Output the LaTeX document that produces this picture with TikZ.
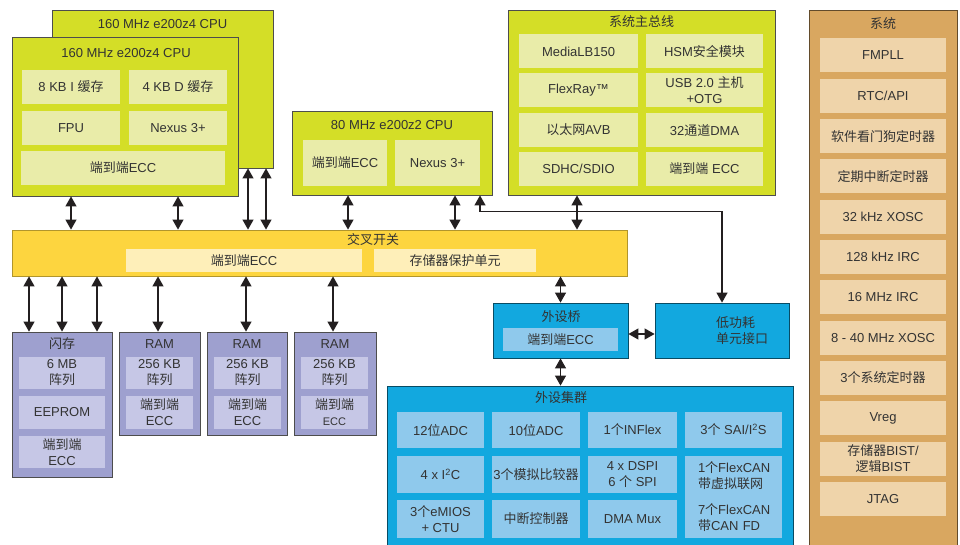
\documentclass[tikz,border=0pt]{standalone}
\usepackage{fontspec}
\setmainfont{Liberation Sans}
\newfontfamily\cjk{Noto Sans CJK SC}
\newcommand{\zh}[1]{{\cjk #1}}
\usepackage{tikz}
\usetikzlibrary{arrows.meta,positioning}

\definecolor{cpugreen}{HTML}{D4DE27}
\definecolor{cpulight}{HTML}{E9ECA9}
\definecolor{xyellow}{HTML}{FDD53F}
\definecolor{xlight}{HTML}{FEEFB9}
\definecolor{mempurple}{HTML}{9EA0CF}
\definecolor{memlight}{HTML}{C6C7E6}
\definecolor{perblue}{HTML}{12A8DF}
\definecolor{perlight}{HTML}{8FC9EC}
\definecolor{systan}{HTML}{D9A760}
\definecolor{syslight}{HTML}{EFD4AA}
\definecolor{linegray}{HTML}{4D4D4D}
\definecolor{textgray}{HTML}{333333}
\definecolor{arrowdark}{HTML}{231F20}

\begin{document}
\begin{tikzpicture}[%
x=1pt, y=-1pt,
>={Stealth[length=10pt,width=11pt,inset=0pt]},
node distance=40.3pt,
on grid,
sz/.style 2 args={minimum width=#1pt, minimum height=#2pt},
ttl/.style={text=textgray, font=\fontsize{13}{16}\selectfont, align=center, inner sep=0pt},
cpubox/.style={draw=linegray, fill=cpugreen, line width=0.8pt, inner sep=0pt},
cpuin/.style={ttl, fill=cpulight},
xbox/.style={draw=xyellow!70!black, fill=xyellow, line width=0.8pt, inner sep=0pt},
xin/.style={ttl, fill=xlight},
membox/.style={draw=linegray, fill=mempurple, line width=0.8pt, inner sep=0pt},
memin/.style={ttl, fill=memlight},
perbox/.style={draw=perblue!45!black, fill=perblue, line width=0.8pt, inner sep=0pt},
perin/.style={ttl, fill=perlight},
sysbox/.style={draw=systan!45!black, fill=systan, line width=0.8pt, inner sep=0pt},
sysin/.style={ttl, fill=syslight, sz={126}{34}},
link/.style={draw=arrowdark, line width=1.1pt}
]
\path[use as bounding box, clip] (0,0) rectangle (960,545);

% processor cores
\node[cpubox, sz={221}{158}] (cpuB) at (162.5,89) {};
\node[ttl] (cpuBt) at (162.5,24) {160 MHz e200z4 CPU};
\node[cpubox, sz={226}{159}] (cpuA) at (125,116.5) {};
\node[ttl] (cpuAt) at (126,53) {160 MHz e200z4 CPU};
\node[cpuin, sz={98}{34}] (icA) at (71,87) {8 KB I \zh{缓存}};
\node[cpuin, sz={98}{34}] (dcA) at (178,87) {4 KB D \zh{缓存}};
\node[cpuin, sz={98}{34}] (fpuA) at (71,128) {FPU};
\node[cpuin, sz={98}{34}] (nexA) at (178,128) {Nexus 3+};
\node[cpuin, sz={204}{34}] (eccA) at (123,168) {\zh{端到端}ECC};

\node[cpubox, sz={200}{84}] (cpuC) at (392,153) {};
\node[ttl] (cpuCt) at (392,125) {80 MHz e200z2 CPU};
\node[cpuin, sz={84}{46}] (eccC) at (345,163) {\zh{端到端}ECC};
\node[cpuin, sz={85}{46}] (nexC) at (437.5,163) {Nexus 3+};

% system bus masters
\node[cpubox, sz={267}{185}] (sbus) at (641.5,102.5) {};
\node[ttl] (sbust) at (641.5,22) {\zh{系统主总线}};
\node[cpuin, sz={119}{34}] (mlb) at (578.5,51.5) {MediaLB150};
\node[cpuin, sz={117}{34}] (hsm) at (704.5,51.5) {HSM\zh{安全模块}};
\node[cpuin, sz={119}{34}] (fray) at (578.5,90.5) {FlexRay™};
\node[cpuin, sz={117}{34}] (usb) at (704.5,90.5) {USB 2.0 \zh{主机}\\+OTG};
\node[cpuin, sz={119}{34}] (enet) at (578.5,130) {\zh{以太网}AVB};
\node[cpuin, sz={117}{34}] (dma) at (704.5,130) {32\zh{通道}DMA};
\node[cpuin, sz={119}{34}] (sdhc) at (578.5,169) {SDHC/SDIO};
\node[cpuin, sz={117}{34}] (eccS) at (704.5,169) {\zh{端到端} ECC};

% crossbar
\node[xbox, sz={615}{46}] (xbar) at (319.5,253) {};
\node[ttl] (xbart) at (373,240) {\zh{交叉开关}};
\node[xin, sz={236}{23}] (eccX) at (244,260.5) {\zh{端到端}ECC};
\node[xin, sz={162}{23}] (mpu) at (455,260.5) {\zh{存储器保护单元}};

% memories
\node[membox, sz={100}{145}] (flash) at (62,404.5) {};
\node[ttl] (flasht) at (62,344) {\zh{闪存}};
\node[memin, sz={86}{32}] (farr) at (62,373) {6 MB\\\zh{阵列}};
\node[memin, sz={86}{33}] (eep) at (62,412.5) {EEPROM};
\node[memin, sz={86}{32}] (eccF) at (62,452) {\zh{端到端}\\ECC};

\node[membox, sz={81}{103}] (ram1) at (159.5,383.5) {};
\node[ttl] (ram1t) at (159.5,344) {RAM};
\node[memin, sz={67}{32}] (arr1) at (159.5,373) {256 KB\\\zh{阵列}};
\node[memin, sz={67}{33}] (ecc1) at (159.5,412.5) {\zh{端到端}\\ECC};

\node[membox, sz={80}{103}] (ram2) at (247,383.5) {};
\node[ttl] (ram2t) at (247,344) {RAM};
\node[memin, sz={67}{32}] (arr2) at (247.5,373) {256 KB\\\zh{阵列}};
\node[memin, sz={67}{33}] (ecc2) at (247.5,412.5) {\zh{端到端}\\ECC};

\node[membox, sz={82}{103}] (ram3) at (335,383.5) {};
\node[ttl] (ram3t) at (335,344) {RAM};
\node[memin, sz={67}{32}] (arr3) at (334.5,373) {256 KB\\\zh{阵列}};
\node[memin, sz={67}{33}] (ecc3) at (334.5,412.5) {\zh{端到端}\\{\fontsize{11}{13}\selectfont ECC}};

% peripheral bridge and low power unit
\node[perbox, sz={135}{55}] (pbr) at (560.5,330.5) {};
\node[ttl] (pbrt) at (561,317) {\zh{外设桥}};
\node[perin, sz={115}{23}] (eccP) at (560.5,339.5) {\zh{端到端}ECC};
\node[perbox, sz={134}{55}] (lpu) at (722,330.5) {};
\node[ttl, align=left] (lput) at (742,331) {\zh{低功耗}\\\zh{单元接口}};

% peripheral cluster
\node[perbox, sz={406}{180}] (pcl) at (590,476) {};
\node[ttl] (pclt) at (561,398) {\zh{外设集群}};
\node[perin, sz={87}{36}] (adc12) at (440.5,430) {12\zh{位}ADC};
\node[perin, sz={88}{36}] (adc10) at (536,430) {10\zh{位}ADC};
\node[perin, sz={89}{36}] (infl) at (632.5,430) {1\zh{个}INFlex};
\node[perin, sz={97}{36}] (sai) at (733.5,430) {3\zh{个} SAI/I\textsuperscript{2}S};
\node[perin, sz={87}{37}] (iic) at (440.5,474.5) {4 x I\textsuperscript{2}C};
\node[perin, sz={88}{37}] (cmp) at (536,474.5) {3\zh{个模拟比较器}};
\node[perin, sz={89}{37}] (dspi) at (632.5,474.5) {4 x DSPI\\6 \zh{个} SPI};
\node[perin, sz={87}{38}] (emios) at (440.5,519) {3\zh{个}eMIOS\\+ CTU};
\node[perin, sz={88}{38}] (intc) at (536,519) {\zh{中断控制器}};
\node[perin, sz={89}{38}] (dmux) at (632.5,519) {DMA Mux};
\node[perin, sz={97}{82}, text width=71pt, inner xsep=13pt, align=left] (can) at (733.5,497)
  {1\zh{个}FlexCAN\\\zh{带虚拟联网}\\[10pt]7\zh{个}FlexCAN\\\zh{带}CAN FD};

% system column
\node[sysbox, sz={148}{560}] (sys) at (883,290) {};
\node[ttl] (syst) at (883,24) {\zh{系统}};
\node[sysin] (pll) at (883,55.5) {FMPLL};
\node[sysin] (rtc) [below of=pll] {RTC/API};
\node[sysin] (swt) [below of=rtc] {\zh{软件看门狗定时器}};
\node[sysin] (pit) [below of=swt] {\zh{定期中断定时器}};
\node[sysin] (xo32) [below of=pit] {32 kHz XOSC};
\node[sysin] (irc128) [below of=xo32] {128 kHz IRC};
\node[sysin] (irc16) [below of=irc128] {16 MHz IRC};
\node[sysin] (xo40) [below of=irc16] {8 - 40 MHz XOSC};
\node[sysin] (stm) [below of=xo40] {3\zh{个系统定时器}};
\node[sysin] (vreg) [below of=stm] {Vreg};
\node[sysin] (bist) [below of=vreg] {\zh{存储器}BIST/\\\zh{逻辑}BIST};
\node[sysin] (jtag) [below of=bist] {JTAG};

% cores and masters to crossbar
\path[<->] (cpuA.south -| 71,0) edge [link] (xbar.north -| 71,0);
\path[<->] (cpuA.south -| 178,0) edge [link] (xbar.north -| 178,0);
\path[<->] (cpuB.south -| 248,0) edge [link] (xbar.north -| 248,0);
\path[<->] (cpuB.south -| 266,0) edge [link] (xbar.north -| 266,0);
\path[<->] (cpuC.south -| 348,0) edge [link] (xbar.north -| 348,0);
\path[<->] (cpuC.south -| 455,0) edge [link] (xbar.north -| 455,0);
\path[<->] (sbus.south -| 577,0) edge [link] (xbar.north -| 577,0);
\draw[<->, link] (cpuC.south -| 480,0) -- ++(0,16) -| (lpu.north);

% crossbar to slaves
\path[<->] (xbar.south -| 29,0) edge [link] (flash.north -| 29,0);
\path[<->] (xbar.south -| 62,0) edge [link] (flash.north -| 62,0);
\path[<->] (xbar.south -| 97,0) edge [link] (flash.north -| 97,0);
\path[<->] (xbar.south -| 158,0) edge [link] (ram1.north -| 158,0);
\path[<->] (xbar.south -| 246,0) edge [link] (ram2.north -| 246,0);
\path[<->] (xbar.south -| 333,0) edge [link] (ram3.north -| 333,0);
\path[<->] (xbar.south -| pbr.north) edge [link] (pbr.north);
\path[<->] (pbr.east |- 0,334) edge [link] (lpu.west |- 0,334);
\path[<->] (pbr.south) edge [link] (pcl.north -| pbr.south);

\end{tikzpicture}
\end{document}
